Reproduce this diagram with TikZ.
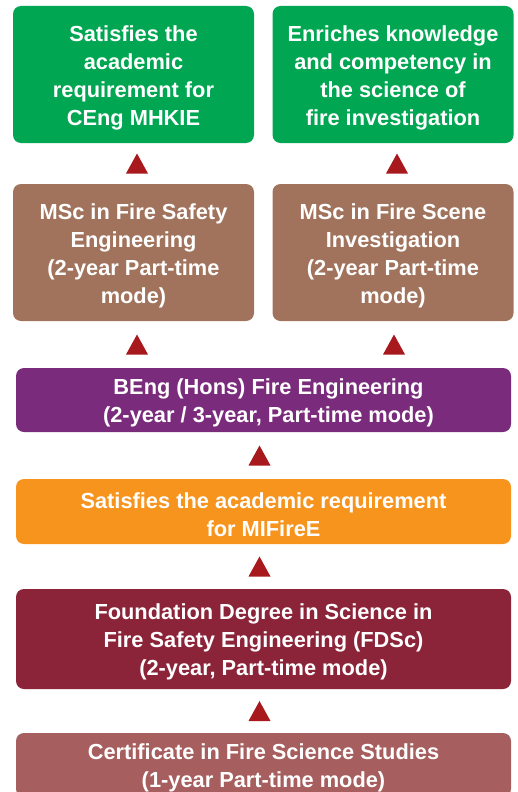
\documentclass[tikz,border=0pt]{standalone}
\usepackage{fontspec}
\setmainfont{Liberation Sans}
\usetikzlibrary{calc}
\definecolor{cgreen}{HTML}{00A651}
\definecolor{cbrown}{HTML}{A1735C}
\definecolor{cpurple}{HTML}{7B2B7B}
\definecolor{corange}{HTML}{F7941E}
\definecolor{cdred}{HTML}{8B2339}
\definecolor{cpink}{HTML}{A65E5E}
\definecolor{ctri}{HTML}{A8191E}
\newcommand\uptri[1]{\fill[ctri] #1 ++(-11,10) -- ++(22,0) -- ++(-11,-20) -- cycle;}
\newcommand\st{\rule{0pt}{22pt}}
\begin{document}
\begin{tikzpicture}[x=1pt,y=-1pt,
  box/.style={rounded corners=8pt, text=white, inner sep=0pt, align=center,
    font=\bfseries\fontsize{21.8}{28}\selectfont},
  small/.style={box, minimum width=241pt, minimum height=137pt},
  wide/.style={box, minimum width=495pt}]
\useasboundingbox (0,0) rectangle (517,792);
\clip (0,0) rectangle (517,792);
\node[small, fill=cgreen] (g1) at (133.5,74.5) {\st Satisfies the\\academic\\requirement for\\CEng MHKIE};
\node[small, fill=cgreen] (g2) at (393,74.5) {\st Enriches knowledge\\and competency in\\the science of\\fire investigation};
\node[small, fill=cbrown] (b1) at (133.5,252.5) {\st MSc in Fire Safety\\Engineering\\(2-year Part-time\\mode)};
\node[small, fill=cbrown] (b2) at (393,252.5) {\st MSc in Fire Scene\\Investigation\\(2-year Part-time\\mode)};
\node[wide, fill=cpurple, minimum height=64pt] (p) at (263.5,400) {\st\hspace{10pt}BEng (Hons) Fire Engineering\\\hspace{10pt}(2-year / 3-year, Part-time mode)};
\node[wide, fill=corange, minimum height=65pt] (o) at (263.5,511.5) {\st Satisfies the academic requirement\\for MIFireE};
\node[wide, fill=cdred, minimum height=100pt] (r) at (263.5,639) {\st Foundation Degree in Science in\\Fire Safety Engineering (FDSc)\\(2-year, Part-time mode)};
\node[wide, fill=cpink, minimum height=64pt] (c) at (263.5,765) {\st Certificate in Fire Science Studies\\(1-year Part-time mode)};
\uptri{($(b1.north)!0.5!(g1.south)+(3.5,0)$)}
\uptri{($(b2.north)!0.5!(g2.south)+(4,0)$)}
\uptri{($(b1.south)!0.5!(b1.south |- p.north)+(3.5,0)$)}
\uptri{($(b2.south)!0.5!(b2.south |- p.north)+(1,0)$)}
\uptri{($(o.north)!0.5!(p.south)+(-4,0)$)}
\uptri{($(r.north)!0.5!(o.south)+(-4,0)$)}
\uptri{($(c.north)!0.5!(r.south)+(-4,0)$)}
\end{tikzpicture}
\end{document}
